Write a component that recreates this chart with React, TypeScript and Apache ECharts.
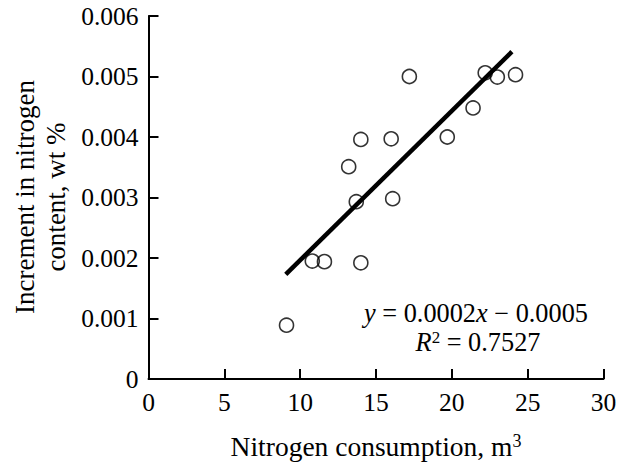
import React, { useEffect, useRef } from "react";
import * as echarts from "echarts";

const consumption = [9.1, 10.8, 11.6, 14.0, 13.7, 16.1, 13.2, 14.0, 16.0, 19.7, 21.4, 17.2, 22.2, 23.0, 24.2];
const increment = [0.00089, 0.00195, 0.00194, 0.00192, 0.00293, 0.00298, 0.00351, 0.00396, 0.00397, 0.004, 0.00448, 0.005, 0.00506, 0.00499, 0.00503];
const trendX = [9.05, 23.96];
const trendY = [0.00173, 0.00541];
const xTicks = [0, 5, 10, 15, 20, 25, 30];
const yTickLabels = ["0", "0.001", "0.002", "0.003", "0.004", "0.005", "0.006"];

const FONT = "'Liberation Serif', 'Times New Roman', serif";

export default function App() {
  const ref = useRef<HTMLDivElement>(null);
  useEffect(() => {
    if (!ref.current) return;
    const chart = echarts.init(ref.current, null, { renderer: "svg" });
    const axisCommon = {
      axisLine: { show: true, lineStyle: { color: "#000", width: 2 } },
      axisTick: { show: true, inside: true, length: 10, lineStyle: { color: "#000", width: 2 } },
      splitLine: { show: false },
    };
    chart.setOption({
      animation: false,
      backgroundColor: "#fff",
      textStyle: { fontFamily: FONT },
      grid: { left: 148.5, right: 20.5, top: 16, bottom: 87, containLabel: false },
      xAxis: {
        type: "value",
        min: xTicks[0],
        max: xTicks[xTicks.length - 1],
        interval: 5,
        ...axisCommon,
        axisLabel: { color: "#000", fontSize: 25.5, fontFamily: FONT, margin: 10 },
      },
      yAxis: {
        type: "value",
        min: 0,
        max: 0.006,
        interval: 0.001,
        ...axisCommon,
        axisLabel: {
          color: "#000",
          fontSize: 25.5,
          fontFamily: FONT,
          margin: 10,
          formatter: (v: number) => yTickLabels[Math.round(v / 0.001)] ?? String(v),
        },
      },
      series: [
        {
          type: "scatter",
          data: consumption.map((x, i) => [x, increment[i]]),
          symbol: "circle",
          symbolSize: 14,
          itemStyle: { color: "rgba(0,0,0,0)", borderColor: "#000", borderWidth: 1.6 },
          z: 2,
        },
        {
          type: "line",
          data: trendX.map((x, i) => [x, trendY[i]]),
          showSymbol: false,
          lineStyle: { color: "#000", width: 4.5 },
          z: 3,
        },
      ],
      graphic: [
        {
          type: "text",
          x: 40,
          y: 197,
          rotation: Math.PI / 2,
          style: {
            text: "Increment in nitrogen\ncontent, wt %",
            fontSize: 27,
            fontFamily: FONT,
            lineHeight: 31,
            align: "center",
            verticalAlign: "middle",
            fill: "#000",
          },
        },
        {
          type: "text",
          x: 376,
          y: 446,
          style: {
            text: "Nitrogen consumption, m{sup|3}",
            fontSize: 27.5,
            fontFamily: FONT,
            align: "center",
            verticalAlign: "middle",
            fill: "#000",
            rich: {
              sup: { fontSize: 18, fontFamily: FONT, verticalAlign: "top", fill: "#000" },
            },
          },
        },
        {
          type: "text",
          x: 476,
          y: 313,
          style: {
            text: "{i|y} = 0.0002{i|x} \u2212 0.0005",
            fontSize: 26.3,
            fontFamily: FONT,
            align: "center",
            verticalAlign: "middle",
            fill: "#000",
            rich: {
              i: { fontSize: 26.3, fontFamily: FONT, fontStyle: "italic", fill: "#000" },
            },
          },
        },
        {
          type: "text",
          x: 478,
          y: 342,
          style: {
            text: "{i|R}{sup|2} = 0.7527",
            fontSize: 26.3,
            fontFamily: FONT,
            align: "center",
            verticalAlign: "middle",
            fill: "#000",
            rich: {
              i: { fontSize: 26.3, fontFamily: FONT, fontStyle: "italic", fill: "#000" },
              sup: { fontSize: 17, fontFamily: FONT, verticalAlign: "top", fill: "#000" },
            },
          },
        },
      ],
    });
    return () => chart.dispose();
  }, []);
  return (
    <div
      ref={ref}
      style={{ position: "fixed", left: 0, top: 0, width: 624, height: 466, background: "#fff" }}
    />
  );
}
